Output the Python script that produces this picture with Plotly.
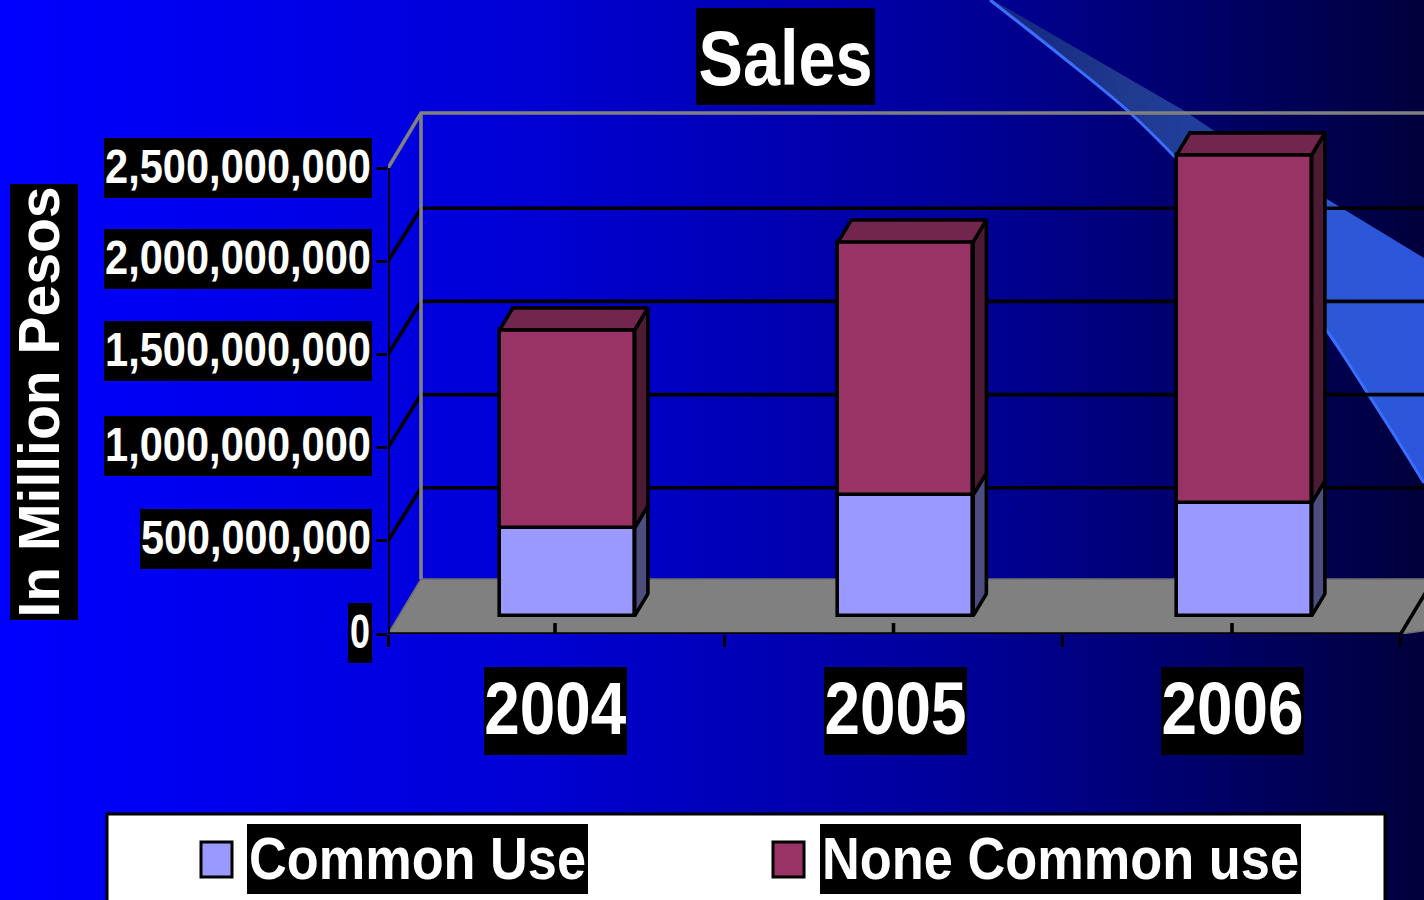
import json
import plotly.graph_objects as go

# ---- chart data ----
years = ["2004", "2005", "2006"]
common_use = [472e6, 649e6, 606e6]
none_common_use = [1062e6, 1357e6, 1867e6]
value_ticks = [0, 500e6, 1000e6, 1500e6, 2000e6, 2500e6]
value_tick_labels = ["0", "500,000,000", "1,000,000,000", "1,500,000,000",
                     "2,000,000,000", "2,500,000,000"]
legend_names = ["Common Use", "None Common use"]
title_text = "Sales"
value_title = "In Million Pesos"

# ---- colours ----
COMMON_FRONT, COMMON_SIDE, COMMON_TOP = "#9999FF", "#4D4D80", "#7373BF"
OTHER_FRONT, OTHER_SIDE, OTHER_TOP = "#993366", "#4D1A33", "#73264D"
WALL_EDGE, FLOOR = "#808080", "#808080"
STROKE = 3.6

# ---- page and plot geometry (pixels) ----
W, H = 1424, 900
AXIS_LEFT, AXIS_BOTTOM, AXIS_TOP = 388, 634, 101
CAT_ORIGIN, CAT_STEP = 555, 338.5      # pixel of the first category, pixels per category
PX_PER_VALUE = 186.4 / 1e9
BAR_PX = 135
BAR_NUDGE = 1.3 / CAT_STEP

x_lo = (AXIS_LEFT - CAT_ORIGIN) / CAT_STEP
x_hi = (W - CAT_ORIGIN) / CAT_STEP
y_hi = (AXIS_BOTTOM - AXIS_TOP) / PX_PER_VALUE
x_end = 2.4984                          # right end of the category axis
GRID_DROP = 2 / PX_PER_VALUE            # inner gridlines meet the back wall slightly lower

# oblique projection: depth 0 is the front edge of the floor, depth 1 the back wall
DEPTH_X = 33 / CAT_STEP
DEPTH_Y = 55 / PX_PER_VALUE
BAR_NEAR, BAR_FAR = 0.33, 0.73


def project(x, value, depth):
    return x + depth * DEPTH_X, value + depth * DEPTH_Y


def path(*corners):
    xs, ys = zip(*(project(*c) for c in corners))
    return list(xs), list(ys)


def px_x(p):
    return p / W


def px_y(p):
    return 1 - p / H


fig = go.Figure()

# ---- page background and swoosh, in page pixels ----
fig.add_trace(go.Scatter(
    x=[0, W, W, 0, 0], y=[0, 0, H, H, 0], xaxis="x", yaxis="y", mode="lines",
    line=dict(width=0), fill="toself",
    fillgradient=dict(type="horizontal", start=0, stop=W, colorscale=[
        [0, "#0000FF"], [0.09, "#0000F5"], [0.35, "#0000D8"], [0.68, "#000098"],
        [0.85, "#000068"], [1, "#00003C"]]),
    hoverinfo="skip"))

swoosh_upper = [(993, 0), (1183, 110), (1213, 130), (1325, 198), (1424, 258)]
swoosh_lower = [(1424, 483), (1398, 441), (1370, 397), (1347, 361), (1325, 328), (1290, 283),
                (1250, 238), (1173, 155), (1127, 110), (1060, 55), (990, 0)]
swoosh = swoosh_upper + swoosh_lower
fig.add_trace(go.Scatter(
    x=[p[0] for p in swoosh], y=[p[1] for p in swoosh], xaxis="x", yaxis="y", mode="lines",
    line=dict(width=0), fill="toself",
    fillgradient=dict(type="horizontal", start=990, stop=1424, colorscale=[
        [0, "#14257F"], [0.32, "#1F3A8E"], [0.5, "#20409F"], [0.78, "#2C58D6"], [1, "#2C55DC"]]),
    hoverinfo="skip"))
fig.add_trace(go.Scatter(
    x=[p[0] for p in swoosh_lower], y=[p[1] for p in swoosh_lower], xaxis="x", yaxis="y",
    mode="lines", line=dict(color="#3A6EFF", width=3, shape="spline"), hoverinfo="skip"))

# ---- floor, walls and gridlines ----
fx, fy = path((x_lo, 0, 0), (x_lo, 0, 1), (x_hi + 1, 0, 1), (x_end, 0, 0), (x_lo, 0, 0))
fig.add_trace(go.Scatter(x=fx, y=fy, xaxis="x2", yaxis="y2", mode="lines",
                         line=dict(color="#6E6E6E", width=1.5), fill="toself", fillcolor=FLOOR,
                         hoverinfo="skip"))

for v in value_ticks[1:-1]:
    gx, gy = path((x_lo, v, 0), (x_lo, v - GRID_DROP, 1), (x_hi + 1, v - GRID_DROP, 1))
    fig.add_trace(go.Scatter(x=gx, y=gy, xaxis="x2", yaxis="y2", mode="lines",
                             line=dict(color="black", width=STROKE), hoverinfo="skip"))

top = value_ticks[-1]
ex, ey = path((x_lo, top, 0), (x_lo, top, 1), (x_hi + 1, top, 1))
fig.add_trace(go.Scatter(x=ex, y=ey, xaxis="x2", yaxis="y2", mode="lines",
                         line=dict(color=WALL_EDGE, width=STROKE), hoverinfo="skip"))
ex, ey = path((x_lo, 0, 1), (x_lo, top, 1))
fig.add_trace(go.Scatter(x=ex, y=ey, xaxis="x2", yaxis="y2", mode="lines",
                         line=dict(color=WALL_EDGE, width=STROKE), hoverinfo="skip"))
ex, ey = path((x_end, 0, 0), (x_end, 0, 1))
fig.add_trace(go.Scatter(x=ex, y=ey, xaxis="x2", yaxis="y2", mode="lines",
                         line=dict(color="black", width=STROKE), hoverinfo="skip"))

# front axis lines, with the inner category marks
fig.add_trace(go.Scatter(x=[x_lo, x_end], y=[0, 0], xaxis="x2", yaxis="y2", mode="lines",
                         line=dict(color="black", width=STROKE), hoverinfo="skip"))
fig.add_trace(go.Scatter(x=[x_lo, x_lo], y=[0, top], xaxis="x2", yaxis="y2", mode="lines",
                         line=dict(color="black", width=STROKE), hoverinfo="skip"))
for i in range(len(years)):
    fig.add_trace(go.Scatter(x=[i, i], y=[0, 11 / PX_PER_VALUE], xaxis="x2", yaxis="y2",
                             mode="lines", line=dict(color="black", width=STROKE), hoverinfo="skip"))

# ---- stacked bars: front faces from bar traces, side and top faces projected ----
half = BAR_PX / CAT_STEP / 2
for i, (low, high) in enumerate(zip(common_use, none_common_use)):
    c = i + BAR_NUDGE
    cx, base = project(c, 0, BAR_NEAR)
    stacks = [(0, low, COMMON_FRONT, COMMON_SIDE), (low, high, OTHER_FRONT, OTHER_SIDE)]
    for start, height, front, side in stacks:
        fig.add_trace(go.Bar(x=[cx], y=[height], base=[base + start], width=[2 * half],
                             xaxis="x3", yaxis="y3",
                             marker=dict(color=front, line=dict(color="black", width=STROKE)),
                             hoverinfo="skip"))
        sx, sy = path((c + half, start, BAR_NEAR), (c + half, start, BAR_FAR),
                      (c + half, start + height, BAR_FAR), (c + half, start + height, BAR_NEAR),
                      (c + half, start, BAR_NEAR))
        fig.add_trace(go.Scatter(x=sx, y=sy, xaxis="x3", yaxis="y3", mode="lines",
                                 line=dict(color="black", width=STROKE), fill="toself",
                                 fillcolor=side, hoverinfo="skip"))
    total = low + high
    tx, ty = path((c - half, total, BAR_NEAR), (c - half, total, BAR_FAR),
                  (c + half, total, BAR_FAR), (c + half, total, BAR_NEAR),
                  (c - half, total, BAR_NEAR))
    fig.add_trace(go.Scatter(x=tx, y=ty, xaxis="x3", yaxis="y3", mode="lines",
                             line=dict(color="black", width=STROKE), fill="toself",
                             fillcolor=OTHER_TOP, hoverinfo="skip"))

# ---- text: every label sits on its own black plate ----
FONT = "Liberation Sans, Arial, sans-serif"
annotations = []
text_fit = {}      # label -> [width in pixels, baseline lift in pixels], applied below


def plate(text, size, width, height, fit, lift, **where):
    text_fit[text] = [fit, lift]
    annotations.append(dict(
        text=text, showarrow=False, bgcolor="black", borderpad=0, borderwidth=0,
        font=dict(family=FONT, size=size, color="white", weight="bold"),
        width=width, height=height, align="center", valign="middle", **where))


plate(title_text, 77, 179, 97, 174, -1.5, xref="paper", yref="paper", x=px_x(785.5), y=px_y(56.5),
      xanchor="center", yanchor="middle")
plate(value_title, 57, 436, 68, 431, 5, xref="paper", yref="paper", x=px_x(44), y=px_y(402),
      xanchor="center", yanchor="middle", textangle=-90)

tick_plate_widths = [24, 232, 268, 268, 268, 268]
tick_text_widths = [20, 230, 266, 266, 266, 266]
tick_plate_shifts = [1, 2, 2, 3, 2, 0]
for v, label, plate_w, text_w, shift in zip(value_ticks, value_tick_labels, tick_plate_widths,
                                            tick_text_widths, tick_plate_shifts):
    plate(label, 49, plate_w, 60, text_w, 2,
          xref="paper", yref="y2", x=px_x(372), y=v, xanchor="right", yanchor="middle", yshift=shift)

year_plate_shifts = [0, 1.5, 0]
for i, year in enumerate(years):
    plate(year, 75, 143, 88, 142, 3, xref="x2", yref="paper", x=i, y=px_y(711),
          xanchor="center", yanchor="middle", xshift=year_plate_shifts[i])

plate(legend_names[0], 60, 341, 70, 337, 1, xref="paper", yref="paper", x=px_x(417.5), y=px_y(859),
      xanchor="center", yanchor="middle")
plate(legend_names[1], 60, 481, 70, 477, 1, xref="paper", yref="paper", x=px_x(1060.5), y=px_y(859),
      xanchor="center", yanchor="middle")

# ---- legend frame and swatches ----
shapes = [
    dict(type="rect", xref="paper", yref="paper", x0=px_x(107), x1=px_x(1385), y0=px_y(930), y1=px_y(814),
         fillcolor="white", line=dict(color="black", width=3), layer="above"),
    dict(type="rect", xref="paper", yref="paper", x0=px_x(201), x1=px_x(232), y0=px_y(877), y1=px_y(842),
         fillcolor=COMMON_FRONT, line=dict(color="black", width=3), layer="above"),
    dict(type="rect", xref="paper", yref="paper", x0=px_x(773), x1=px_x(804), y0=px_y(877), y1=px_y(842),
         fillcolor=OTHER_FRONT, line=dict(color="black", width=3), layer="above"),
]

hidden = dict(visible=False, fixedrange=True)
chart_x = dict(domain=[px_x(AXIS_LEFT), 1], range=[x_lo, x_hi], showgrid=False, zeroline=False,
               showticklabels=False, fixedrange=True)
chart_y = dict(domain=[px_y(AXIS_BOTTOM), px_y(AXIS_TOP)], range=[0, y_hi], showgrid=False,
               zeroline=False, showticklabels=False, fixedrange=True)

fig.update_layout(
    width=W, height=H, autosize=False,
    margin=dict(l=0, r=0, t=0, b=0, pad=0),
    paper_bgcolor="rgba(0,0,0,0)", plot_bgcolor="rgba(0,0,0,0)",
    showlegend=False, barmode="overlay", bargap=0,
    xaxis=dict(domain=[0, 1], range=[0, W], **hidden),
    yaxis=dict(domain=[0, 1], range=[H, 0], **hidden),
    xaxis2=dict(anchor="y2", ticks="outside", ticklen=12, tickwidth=3.4, tickcolor="black",
                tickvals=[x_lo, 0.4993, 1.4978, x_end], **chart_x),
    yaxis2=dict(anchor="x2", ticks="outside", ticklen=11, tickwidth=3.4, tickcolor="black",
                tickvals=value_ticks, **chart_y),
    xaxis3=dict(anchor="y3", visible=False, **{k: v for k, v in chart_x.items() if k != "showticklabels"}),
    yaxis3=dict(anchor="x3", visible=False, **{k: v for k, v in chart_y.items() if k != "showticklabels"}),
    shapes=shapes,
    annotations=annotations,
)

# Condense the labels horizontally (the installed sans has no narrow bold cut)
# and settle each baseline inside its plate.
fit_labels = """
var fit = %s;
document.querySelectorAll('text.annotation-text').forEach(function (t) {
    var f = fit[t.textContent];
    if (f) {
        t.setAttribute('textLength', f[0]);
        t.setAttribute('lengthAdjust', 'spacingAndGlyphs');
        t.setAttribute('y', parseFloat(t.getAttribute('y')) - f[1]);
    }
});
""" % json.dumps(text_fit)

fig.write_html("out.html", config=dict(displayModeBar=False), post_script=fit_labels,
               default_width=f"{W}px", default_height=f"{H}px")
